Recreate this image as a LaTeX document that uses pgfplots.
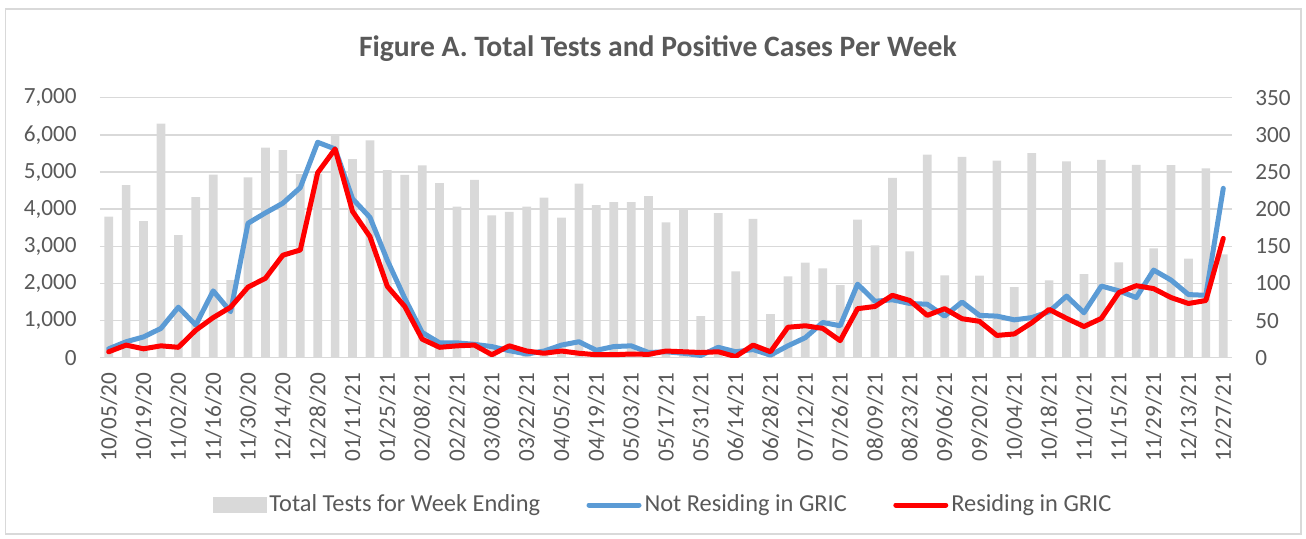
\documentclass[border=0pt]{standalone}
\usepackage{pgfplots}
\pgfplotsset{compat=1.18}
\usepackage{pgfplotstable}
\usepackage{fontspec}
\setmainfont{Carlito}
\definecolor{txt}{HTML}{595959}
\definecolor{barc}{HTML}{D9D9D9}
\definecolor{gridc}{HTML}{D9D9D9}
\definecolor{bluec}{HTML}{5B9BD5}
\definecolor{redc}{HTML}{FF0000}

\pgfplotstableread{
x tests notres res
0 3800 12 8
1 4650 21.5 17
2 3680 28 12
3 6300 39.5 16
4 3300 68 14
5 4325 44 37
6 4930 90 54
7 2090 62 68
8 4855 181 95
9 5660 195 107
10 5590 208 138
11 4940 229 145
12 4950 290 249
13 6020 281 281
14 5350 214 197
15 5850 189 163
16 5050 131 96
17 4920 80 69
18 5180 34 25
19 4700 20 14
20 4065 20 16
21 4785 18 17
22 3830 15 4
23 3930 9.5 16
24 4065 5 9
25 4310 9 6
26 3770 17 9
27 4685 21.5 6
28 4110 10 4
29 4190 15 4
30 4190 16 5
31 4350 7 4.5
32 3645 8 9
33 3995 6 8
34 1120 3 7
35 3895 14 8
36 2325 8 1.5
37 3735 11 17
38 1175 3.5 8
39 2190 16 41
40 2560 27 43
41 2405 47.5 39.5
42 1955 43 23
43 3715 99 66
44 3025 76 69
45 4840 78 84
46 2865 73 77
47 5465 72 57
48 2215 56 66
49 5410 75 52.5
50 2210 57 49
51 5305 56 30
52 1900 51 32
53 5510 54 47
54 2080 62 65
55 5285 83 53
56 2250 60.5 42
57 5330 96.5 53
58 2565 90 87.5
59 5195 81 97
60 2945 118 93
61 5185 104.5 81
62 2665 85 73
63 5095 84 77
64 2780 228 160.6
}\datatable

\pgfplotsset{
  common/.style={
    at={(50pt,-178.85pt)}, anchor=south west,
    scale only axis, width=566pt, height=130pt,
    xmin=-0.5, xmax=64.5,
    enlargelimits=false,
    axis line style={draw=none},
    major tick length=0pt,
    tick label style={font=\fontsize{11.6}{13}\selectfont, text=txt},
    yticklabel style={/pgf/number format/1000 sep={,}, /pgf/number format/assume math mode=true},
    scaled y ticks=false,
  }
}

\begin{document}
\begin{tikzpicture}
\useasboundingbox (0,0) rectangle (653pt,-269pt);
\draw[gridc, line width=0.75pt] (2.75pt,-4.5pt) rectangle (650.5pt,-267pt);
\begin{axis}[common,
  ymin=0, ymax=7000, ytick={0,1000,...,7000},
  ymajorgrids, grid style={gridc, line width=0.75pt},
  yticklabel style={inner sep=0pt},
  yticklabel shift=11.5pt,
  xtick={0,2,...,64},
  xticklabels={10/05/20,10/19/20,11/02/20,11/16/20,11/30/20,12/14/20,12/28/20,01/11/21,01/25/21,02/08/21,02/22/21,03/08/21,03/22/21,04/05/21,04/19/21,05/03/21,05/17/21,05/31/21,06/14/21,06/28/21,07/12/21,07/26/21,08/09/21,08/23/21,09/06/21,09/20/21,10/04/21,10/18/21,11/01/21,11/15/21,11/29/21,12/13/21,12/27/21},
  xticklabel style={rotate=90, anchor=east, inner sep=0pt},
  xticklabel shift=7.5pt,
  title={\textbf{Figure A. Total Tests and Positive Cases Per Week}},
  title style={at={(0.4929,1.19)}, anchor=center, yshift=-6pt, font=\fontsize{14.8}{17}\selectfont, text=txt, inner sep=0pt},
]
\addplot[ybar, bar width=0.5, fill=barc, draw=none] table[x=x, y=tests] {\datatable};
\end{axis}
\begin{axis}[common,
  ymin=0, ymax=350, ytick={0,50,...,350},
  axis y line*=right, hide x axis,
  yticklabel style={inner sep=0pt, anchor=west},
  yticklabel shift=11.5pt,
  legend columns=3,
  legend style={draw=none, fill=none, at={(0.0992,-0.5665)}, anchor=west,
    font=\fontsize{12.2}{14}\selectfont, text=txt, inner sep=0pt,
    nodes={inner sep=1.5pt},
    /tikz/every even column/.append style={column sep=21.7pt}},
  legend cell align=left,
]
\addlegendimage{legend image code/.code={\fill[barc] (0pt,-3.6pt) rectangle (26.5pt,3.6pt);}}
\addlegendentry{Total Tests for Week Ending}
\addplot[bluec, line width=2.5pt, line join=round, line cap=round, mark=none,
  legend image code/.code={\draw[bluec, line width=2.5pt, line cap=round] (1.25pt,0pt) -- (26.25pt,0pt);}]
  table[x=x, y=notres] {\datatable};
\addlegendentry{Not Residing in GRIC}
\addplot[redc, line width=2.5pt, line join=round, line cap=round, mark=none,
  legend image code/.code={\draw[redc, line width=2.5pt, line cap=round] (1.25pt,0pt) -- (26.25pt,0pt);}]
  table[x=x, y=res] {\datatable};
\addlegendentry{Residing in GRIC}
\end{axis}
\end{tikzpicture}
\end{document}
